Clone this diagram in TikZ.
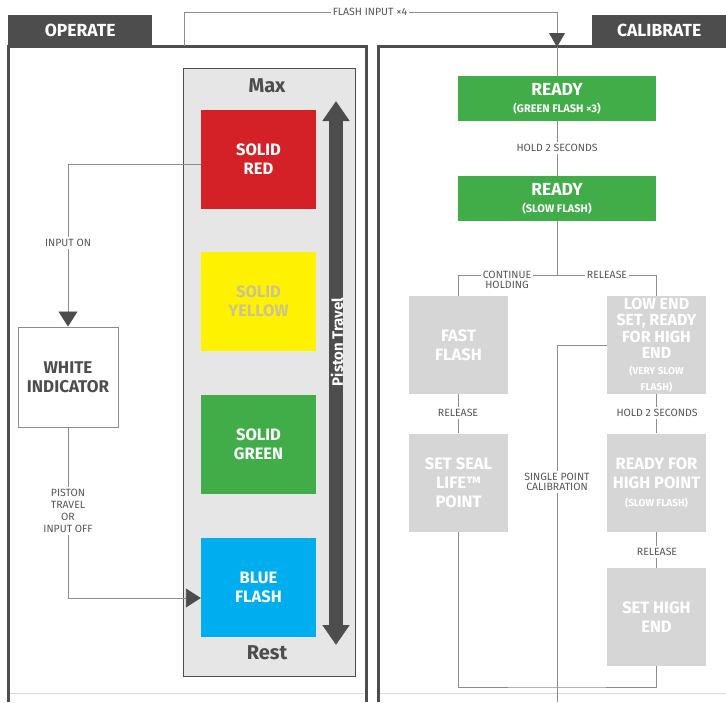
\documentclass[tikz,border=0pt]{standalone}
\usepackage{fontspec}
\setmainfont{Fira Sans}
\usetikzlibrary{positioning,arrows.meta,calc}
\definecolor{tabgray}{HTML}{4D4D4D}
\definecolor{linegray}{HTML}{8C8C8C}
\definecolor{txtgray}{HTML}{555555}
\definecolor{colgray}{HTML}{E6E6E6}
\definecolor{boxgray}{HTML}{D6D6D6}
\definecolor{ledred}{HTML}{D42027}
\definecolor{ledyellow}{HTML}{FFF200}
\definecolor{txtyellow}{HTML}{CCC48E}
\definecolor{ledgreen}{HTML}{41AD49}
\definecolor{ledblue}{HTML}{00AEEF}

\begin{document}
\begin{tikzpicture}[
    x=1pt, y=-1pt, font=\fontsize{10.5}{12}\selectfont,
    tab/.style={fill=tabgray, text=white, font=\fontsize{17.5}{19}\selectfont\bfseries, minimum height=31pt, inner sep=0pt, anchor=north west},
    led/.style={minimum width=115pt, minimum height=99pt, inner sep=0pt, text=white, align=center, font=\fontsize{16.5}{19}\selectfont\bfseries},
    stage/.style={fill=boxgray, minimum width=99pt, minimum height=98pt, inner sep=0pt, text=white, align=center, font=\fontsize{16.5}{19}\selectfont\bfseries},
    ready/.style={fill=ledgreen, minimum width=198pt, minimum height=45pt, inner sep=0pt, text=white, align=center, font=\fontsize{17.5}{19}\selectfont\bfseries},
    lbl/.style={fill=white, text=txtgray, align=center, inner sep=2pt, font=\fontsize{10.5}{12}\selectfont},
    c/.style={linegray, line width=0.9pt},
    d/.style={c, -{Triangle[width=19pt, length=15pt, color=tabgray]}},
    frame/.style={tabgray, line width=3pt},
    piston/.style={tabgray, line width=14pt, {Triangle[width=26pt, length=20pt]}-{Triangle[width=26pt, length=20pt]}},
]
  \useasboundingbox (0,0) rectangle (726,702);
  % panels and tabs
  \draw[frame] (8,702) -- (8,46) -- (366,46) -- (366,702);
  \draw[frame] (378,702) -- (378,46) -- (726,46);
  \draw[black!15, line width=1pt] (10,693) -- (364,693);
  \draw[black!15, line width=1pt] (380,693) -- (726,693);
  \node[tab, minimum width=144pt] (op)  at (8,15)   {OPERATE};
  \node[tab, minimum width=134pt] (cal) at (592,15) {CALIBRATE};

  % operate side
  \node[draw=tabgray, fill=colgray, minimum width=172pt, minimum height=608pt] (col) at (269.5,372) {};
  \node[text=tabgray, font=\fontsize{20}{22}\selectfont\bfseries] (maxl)  at (267,86)  {Max};
  \node[text=tabgray, font=\fontsize{20}{22}\selectfont\bfseries] (restl) at (267,653) {Rest};
  \node[led, fill=ledred]    (red)    at (258.5,159.5) {SOLID\\RED};
  \node[led, fill=ledyellow, text=txtyellow] (yellow) at (258.5,301.5) {SOLID\\YELLOW};
  \node[led, fill=ledgreen]  (green)  at (258.5,444)   {SOLID\\GREEN};
  \node[led, fill=ledblue]   (blue)   at (258.5,587)   {BLUE\\FLASH};
  \coordinate (ptop) at (336,101);
  \coordinate (pbot) at (336,645);
  \draw[piston] (ptop) -- (pbot);
  \node[rotate=90, text=white, font=\fontsize{15}{17}\selectfont\bfseries] (ptxt) at (337,342) {Piston Travel};
  \node[draw=linegray, line width=1pt, fill=white, minimum width=100pt, minimum height=100pt, align=center,
        text=tabgray, font=\fontsize{17}{19.5}\selectfont\bfseries] (white) at (68,377) {WHITE\\INDICATOR};
  \draw[d] ([yshift=-5pt]red.west) -| (white);
  \draw[d] (white) |- ([yshift=-11pt]blue.west);
  \node[lbl] (inon) at (68,243) {INPUT ON};
  \node[lbl] (ptrav) at (68,511) {PISTON\\TRAVEL\\OR\\INPUT OFF};

  % calibrate side
  \node[ready] (rdy1) at (557,98.5)  {READY\\[-2pt]\fontsize{11}{12}\selectfont (GREEN FLASH ×3)};
  \node[ready] (rdy2) at (557,198.5) {READY\\[-2pt]\fontsize{11}{12}\selectfont (SLOW FLASH)};
  \node[stage] (fast)   at (458.5,345)   {FAST\\FLASH};
  \node[stage] (seal)   at (458.5,482.5) {SET SEAL\\LIFE™\\POINT};
  \node[stage, font=\fontsize{16}{16.5}\selectfont\bfseries] (low) at (656.5,345)
        {LOW END\\SET, READY\\FOR HIGH\\END\\[-1pt]\fontsize{10}{11}\selectfont (VERY SLOW\\\fontsize{10}{11}\selectfont FLASH)};
  \node[stage] (high)   at (656.5,482.5) {READY FOR\\HIGH POINT\\[-1pt]\fontsize{10}{11}\selectfont (SLOW FLASH)};
  \node[stage] (setend) at (656.5,617)   {SET HIGH\\END};

  \coordinate (fin)   at (184,46);
  \coordinate (fup)   at (184,12);
  \coordinate (fmark) at (557,33);
  \coordinate (ftip)  at (557,47);
  \coordinate (br)    at (557,275);
  \coordinate (bot)   at (557,687);
  \coordinate (spc)   at (557,702);
  \draw[c] (fin) -- (fup) -| (rdy1);
  \draw[d, -{Triangle[width=16pt, length=14pt, color=tabgray]}] (fmark) -- (ftip);
  \draw[c] (rdy1) -- (rdy2);
  \draw[c] (rdy2) -- (br);
  \draw[c] (br) -| (fast);
  \draw[c] (br) -| (low);
  \draw[c] (fast) -- (seal);
  \draw[c] (low) -- (high);
  \draw[c] (high) -- (setend);
  \draw[c] (seal) |- (bot) -| (setend);
  \draw[c] (low.west) -| (spc);

  \node[lbl] (flab)   at (370,12)  {FLASH INPUT ×4};
  \node[lbl] (hold1)  at (557,148) {HOLD 2 SECONDS};
  \node[lbl] (cont)   at (507,280) {CONTINUE\\[-2pt]HOLDING};
  \node[lbl] (rel1)   at (607,275) {RELEASE};
  \node[lbl] (rel2)   at (458,413) {RELEASE};
  \node[lbl] (hold2)  at (657,413) {HOLD 2 SECONDS};
  \node[lbl] (rel3)   at (657,552) {RELEASE};
  \node[lbl] (single) at (557,482) {SINGLE POINT\\[-2pt]CALIBRATION};
\end{tikzpicture}
\end{document}
